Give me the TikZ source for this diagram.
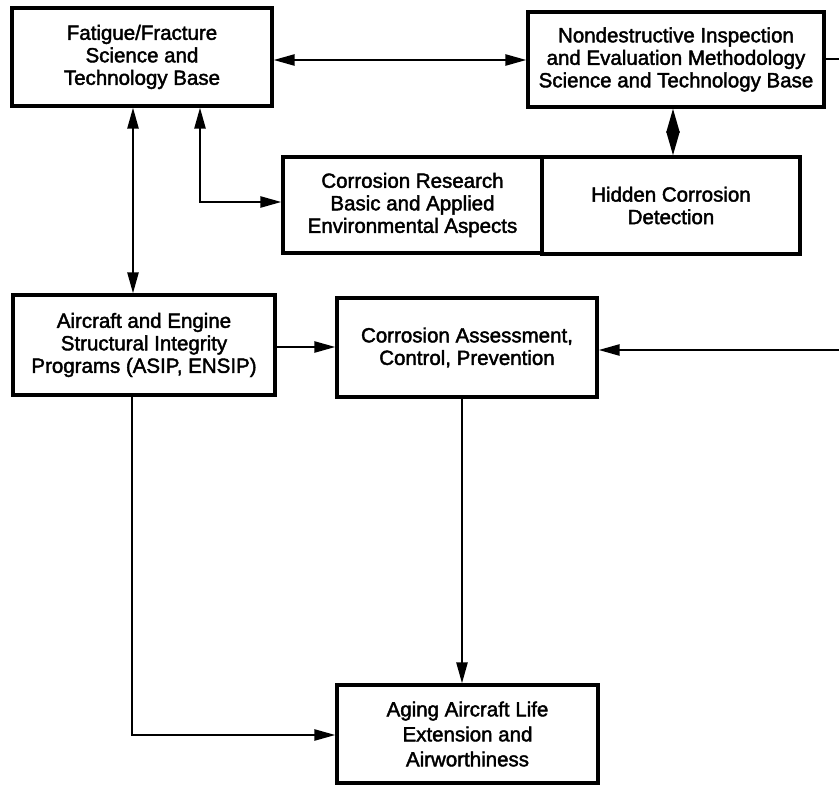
\documentclass[tikz,border=0pt]{standalone}
\usepackage{fontspec}
\setmainfont{Liberation Sans}
\newfontfamily\diafont{Liberation Sans}[FakeBold=2]
\usetikzlibrary{arrows.meta}
\begin{document}
\begin{tikzpicture}[x=1pt,y=-1pt,
  box/.style={draw,line width=3.2pt,inner sep=0pt,align=center,
    font=\diafont\fontsize{20.5}{22.5}\selectfont},
  conn/.style={line width=2.4pt},
  tipa/.tip={Triangle[length=21pt,width=11pt]},
  tipd/.tip={Triangle[length=24pt,width=13pt]},
  arr/.style={conn,-tipa},
  darr/.style={conn,tipa-tipa},
  diam/.style={conn,tipd-tipd}]
\useasboundingbox (0,0) rectangle (839,786);
\node[box,minimum width=260pt,minimum height=98pt] (ff) at (142,57)
  {Fatigue/Fracture\\Science and\\Technology Base};
\node[box,minimum width=296pt,minimum height=95pt] (ndi) at (676,59.5)
  {Nondestructive Inspection\\and Evaluation Methodology\\Science and Technology Base};
\node[box,minimum width=259pt,minimum height=96pt] (cr) at (412.5,205)
  {Corrosion Research\\Basic and Applied\\Environmental Aspects};
\node[box,minimum width=258pt,minimum height=97pt] (hid) at (671,205.5)
  {Hidden Corrosion\\Detection};
\node[box,minimum width=262pt,minimum height=100pt] (asip) at (144,345)
  {Aircraft and Engine\\Structural Integrity\\Programs (ASIP, ENSIP)};
\node[box,minimum width=260pt,minimum height=99pt] (ca) at (467,347.5)
  {Corrosion Assessment,\\Control, Prevention};
\node[box,minimum width=261pt,minimum height=98pt,
  font=\diafont\fontsize{20.5}{25}\selectfont] (aging) at (467.5,734)
  {Aging Aircraft Life\\Extension and\\Airworthiness};
\coordinate (re1) at (839,59);
\coordinate (re2) at (839,350);
\draw[darr] (ff.east |- 0,60) -- (ndi.west |- 0,60);
\draw[darr] (ff.south -| 133,0) -- (asip.north -| 133,0);
\draw[darr] (ff.south -| 200,0) |- (cr.west |- 0,202);
\draw[diam] (ndi.south -| 673,0) -- (hid.north -| 673,0);
\draw[conn] (ndi.east |- re1) -- (re1);
\draw[arr] (asip.east |- 0,347) -- (ca.west |- 0,347);
\draw[arr] (re2) -- (ca.east |- re2);
\draw[arr] (ca.south -| 462,0) -- (aging.north -| 462,0);
\draw[arr] (asip.south -| 132,0) |- (aging.west |- 0,735);
\end{tikzpicture}
\end{document}
